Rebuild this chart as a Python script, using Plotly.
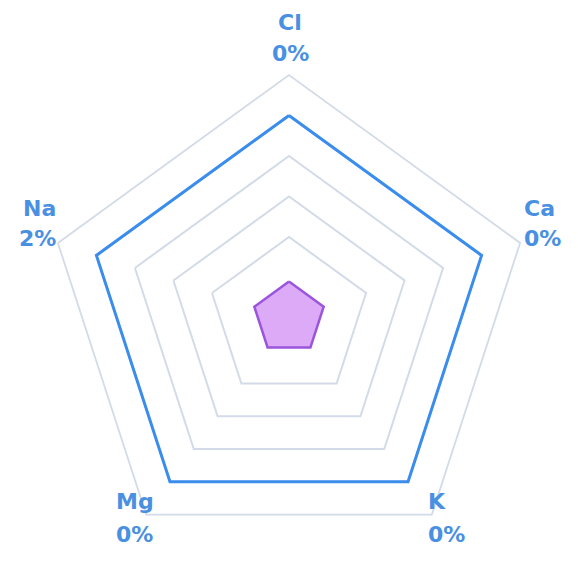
import plotly.graph_objects as go

elements = ["Cl", "Ca", "K", "Mg", "Na"]
percents = ["0%", "0%", "0%", "0%", "2%"]
reference_level = [5, 5, 5, 5, 5]
sample_values = [0.9, 0.9, 0.9, 0.9, 0.9]
grid_ticks = [2, 3, 4, 5, 6]

W, H = 578, 564
OFF = 8  # page body margin
cx, cy, R = 289 - OFF, 318 - OFF, 243

fig = go.Figure()
fig.add_trace(go.Scatterpolar(
    r=reference_level + reference_level[:1], theta=elements + elements[:1],
    mode="lines", line=dict(color="#3a8ced", width=3), fill="none",
    hoverinfo="skip"))
fig.add_trace(go.Scatterpolar(
    r=sample_values + sample_values[:1], theta=elements + elements[:1],
    mode="lines", line=dict(color="#9b55dc", width=2.5), fill="toself",
    fillcolor="#dcaaf7", hoverinfo="skip"))

# label placement (screen px): x, xanchor, name-line y, pct-line y
label_pos = [
    (290, "center", 23, 54),
    (522, "left", 208, 238),
    (426, "left", 501, 534),
    (114, "left", 501, 534),
    (58, "right", 208, 238),
]
font = dict(family="DejaVu Sans", size=22, color="#4a90e2", weight="bold")
annotations = []
for name, pct, (x, xa, y1, y2) in zip(elements, percents, label_pos):
    for txt, yy in ((name, y1), (pct, y2)):
        annotations.append(dict(
            text=txt, xref="paper", yref="paper",
            x=(x - OFF) / W, y=1 - (yy - OFF) / H,
            xanchor=xa, yanchor="middle", showarrow=False, font=font))

fig.update_layout(
    width=W, height=H, showlegend=False,
    margin=dict(l=0, r=0, t=0, b=0),
    paper_bgcolor="white", plot_bgcolor="white",
    annotations=annotations,
    polar=dict(
        domain=dict(x=[(cx - R) / W, (cx + R) / W],
                    y=[(H - cy - R) / H, (H - cy + R) / H]),
        bgcolor="white", gridshape="linear",
        radialaxis=dict(range=[0, 6], tickvals=grid_ticks, showticklabels=False,
                        ticks="", showline=False, gridcolor="#d3dae8", gridwidth=1.8),
        angularaxis=dict(direction="clockwise", rotation=90, showgrid=False,
                         showticklabels=False,
                         linecolor="#d3dae8", linewidth=1.8, ticks=""),
    ),
)
fig.write_html("out.html")
